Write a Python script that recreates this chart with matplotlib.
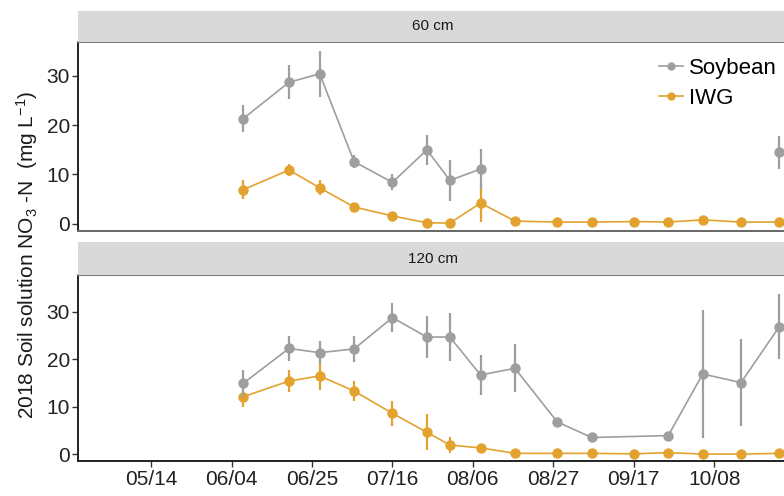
import numpy as np
import matplotlib
matplotlib.use("Agg")
import matplotlib.pyplot as plt
import matplotlib.dates as mdates
from matplotlib.lines import Line2D

plt.rcParams["font.family"] = ["Liberation Sans", "DejaVu Sans"]
plt.rcParams["mathtext.fontset"] = "custom"
plt.rcParams["mathtext.rm"] = "Liberation Sans"
plt.rcParams["mathtext.it"] = "Liberation Sans:italic"

# Sampling dates (2018)
dates_all = ["2018-06-07", "2018-06-19", "2018-06-27", "2018-07-06", "2018-07-16",
             "2018-07-25", "2018-07-31", "2018-08-08", "2018-08-17", "2018-08-28",
             "2018-09-06", "2018-09-17", "2018-09-26", "2018-10-05", "2018-10-15",
             "2018-10-25"]

# 60 cm
soy60_dates = ["2018-06-07", "2018-06-19", "2018-06-27", "2018-07-06", "2018-07-16",
               "2018-07-25", "2018-07-31", "2018-08-08", "2018-08-17", "2018-10-25"]
soy60 = [21.3, 28.7, 30.4, 12.6, 8.4, 15.0, 8.8, 11.1, np.nan, 14.5]
soy60_err = [2.7, 3.4, 4.6, 1.3, 1.6, 3.0, 4.2, 4.0, np.nan, 3.4]
iwg60 = [6.9, 10.9, 7.3, 3.4, 1.6, 0.2, 0.15, 4.2, 0.55, 0.35, 0.35, 0.45, 0.35, 0.8, 0.35, 0.35]
iwg60_err = [1.9, 1.3, 1.5, 0.6, 0.5, 0.3, 0.3, 3.9, 0.3, 0.2, 0.2, 0.2, 0.2, 0.3, 0.2, 0.2]

# 120 cm
soy120_dates = ["2018-06-07", "2018-06-19", "2018-06-27", "2018-07-06", "2018-07-16",
                "2018-07-25", "2018-07-31", "2018-08-08", "2018-08-17", "2018-08-28",
                "2018-09-06", "2018-09-26", "2018-10-05", "2018-10-15", "2018-10-25"]
soy120 = [14.9, 22.3, 21.4, 22.2, 28.8, 24.7, 24.7, 16.7, 18.1, 6.8, 3.5, 3.9, 16.9, 15.1, 26.9]
soy120_err = [2.9, 2.7, 2.4, 2.7, 3.1, 4.5, 5.1, 4.3, 5.1, 0.3, 0.3, 0.3, 13.5, 9.1, 6.8]
iwg120 = [12.1, 15.4, 16.5, 13.3, 8.6, 4.6, 1.9, 1.3, 0.15, 0.15, 0.15, 0.05, 0.3, 0.0, 0.0, 0.15]
iwg120_err = [2.1, 2.4, 3.0, 2.2, 2.7, 3.8, 1.7, 0.7, 0.2, 0.2, 0.2, 0.2, 0.2, 0.2, 0.2, 0.2]

tick_dates = ["2018-05-14", "2018-06-04", "2018-06-25", "2018-07-16",
              "2018-08-06", "2018-08-27", "2018-09-17", "2018-10-08"]

c_soy = "#9E9E9E"
c_iwg = "#E3A22E"

W, H = 784, 496
fig = plt.figure(figsize=(W / 100, H / 100), dpi=100)

def fx(px):
    return px / W

def fy(py):
    return 1 - py / H

left, right = 78.3, 787
panels = [
    dict(top=42.3, bot=230.7, strip=(10.7, 42.3), label="60 cm", ylim=(-1.4, 36.8),
         soy=(soy60_dates, soy60, soy60_err), iwg=(iwg60, iwg60_err)),
    dict(top=275, bot=460.7, strip=(242.3, 275), label="120 cm", ylim=(-1.4, 37.8),
         soy=(soy120_dates, soy120, soy120_err), iwg=(iwg120, iwg120_err)),
]

xlim = (np.datetime64("2018-04-25"), np.datetime64("2018-10-27"))

axes = []
for i, p in enumerate(panels):
    ax = fig.add_axes([fx(left), fy(p["bot"]), fx(right - left), (p["bot"] - p["top"]) / H])
    # facet strip
    s_top, s_bot = p["strip"]
    sax = fig.add_axes([fx(left), fy(s_bot), fx(right - left), (s_bot - s_top) / H])
    sax.set_facecolor("#D9D9D9")
    for sp in sax.spines.values():
        sp.set_visible(False)
    sax.set_xticks([])
    sax.set_yticks([])
    sax.text(0.5, 0.5, p["label"], transform=sax.transAxes, ha="center", va="center",
             fontsize=11, color="#1a1a1a")

    d_soy, v_soy, e_soy = p["soy"]
    x_soy = np.array(d_soy, dtype="datetime64[D]")
    x_iwg = np.array(dates_all, dtype="datetime64[D]")
    v_iwg, e_iwg = p["iwg"]

    ax.errorbar(x_iwg, v_iwg, yerr=e_iwg, color=c_iwg, marker="o", markersize=6.5,
                linewidth=1.2, elinewidth=1.6, capsize=0, zorder=3)
    ax.errorbar(x_soy, v_soy, yerr=e_soy, color=c_soy, marker="o", markersize=6.5,
                linewidth=1.2, elinewidth=1.6, capsize=0, zorder=4)

    ax.set_xlim(*xlim)
    ax.set_ylim(*p["ylim"])
    ax.set_yticks([0, 10, 20, 30])
    ax.xaxis.set_major_formatter(mdates.DateFormatter("%m/%d"))
    ax.set_xticks(np.array(tick_dates, dtype="datetime64[D]"))
    ax.tick_params(axis="y", labelsize=15, length=4, width=1, color="#333333",
                   labelcolor="#222222", pad=2)
    ax.tick_params(axis="x", labelsize=15, length=4, width=1, color="#333333",
                   labelcolor="#222222", pad=3)
    ax.spines["right"].set_visible(False)
    ax.spines["left"].set_color("#222222")
    ax.spines["left"].set_linewidth(1.4)
    ax.spines["top"].set_color("#777777")
    ax.spines["top"].set_linewidth(1.4)
    ax.spines["bottom"].set_linewidth(1.4)
    if i == 0:
        ax.spines["bottom"].set_color("#666666")
        ax.tick_params(axis="x", bottom=False, labelbottom=False)
    else:
        ax.spines["bottom"].set_color("#222222")
    axes.append(ax)

handles = [Line2D([], [], color=c_soy, marker="o", markersize=5, linewidth=1.2),
           Line2D([], [], color=c_iwg, marker="o", markersize=5, linewidth=1.2)]
fig.legend(handles, ["Soybean", "IWG"],
           loc="upper left", bbox_to_anchor=(fx(659), fy(58)), frameon=False,
           fontsize=16, handlelength=1.1, handletextpad=0.25, labelspacing=0.4,
           borderpad=0, borderaxespad=0)

fig.text(fx(27), fy(255), r"2018 Soil solution NO$_3$ -N  (mg L$^{-1}$)",
         rotation=90, ha="center", va="center", fontsize=15, color="#1a1a1a")

fig.savefig("out.png", dpi=100)
